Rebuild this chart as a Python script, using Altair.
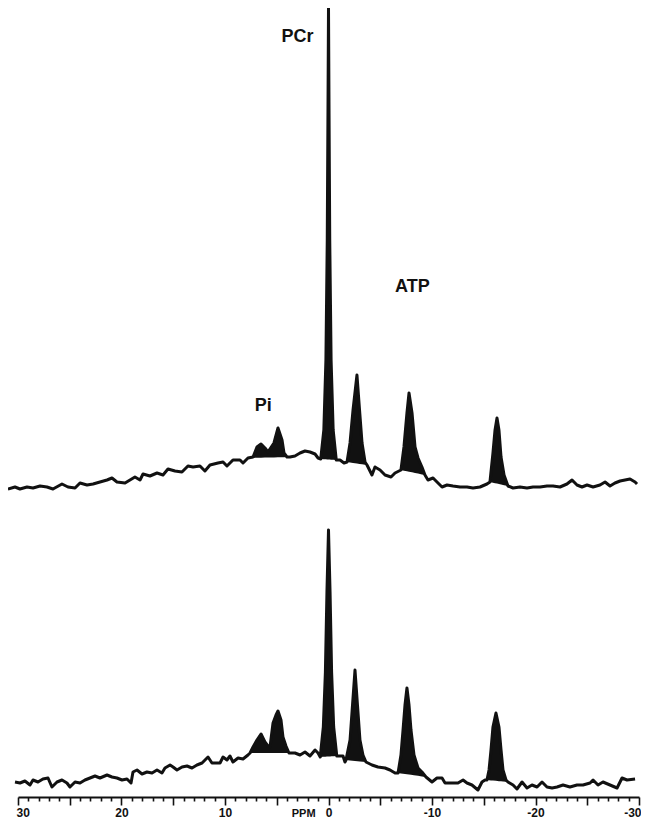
import altair as alt
import numpy as np
import pandas as pd

# ---- spectrum 1 (upper trace): chemical shift (ppm) and intensity (a.u.) ----
top_ppm = [30.97, 30.29, 29.81, 29.13, 28.55, 27.87, 27.20, 26.62, 25.75, 25.17, 24.49, 24.01,
           23.33, 22.75, 22.08, 21.40, 20.92, 20.44, 19.66, 19.18, 18.70, 18.21, 17.92, 17.25,
           16.57, 15.99, 15.51, 14.83, 14.16, 13.58, 13.09, 12.42, 11.94, 11.45, 10.68, 10.19,
           9.81, 9.23, 8.55, 8.26, 7.78, 7.29, 6.91, 6.52, 6.14, 5.85, 5.27, 4.88, 4.49, 4.30,
           4.01, 3.72, 3.24, 2.75, 2.27, 1.79, 1.30, 1.01, 0.75, 0.45, 0.25, 0.12, 0.05, 0.0,
           -0.05, -0.12, -0.25, -0.45, -0.75, -1.11, -1.50, -1.79, -2.08, -2.37, -2.75, -3.00,
           -3.24, -3.53, -3.72, -4.20, -4.49, -4.98, -5.46, -6.04, -6.43, -7.00, -7.29, -7.58,
           -7.78, -8.07, -8.36, -8.65, -9.03, -9.32, -9.61, -10.10, -10.58, -10.97, -11.45,
           -12.03, -12.71, -13.38, -13.96, -14.64, -15.31, -15.60, -15.89, -16.09, -16.28,
           -16.47, -16.67, -16.96, -17.34, -17.83, -18.50, -19.18, -19.76, -20.44, -21.11,
           -21.69, -22.37, -23.04, -23.53, -24.01, -24.49, -24.98, -25.56, -26.23, -26.72,
           -27.20, -27.68, -28.17, -28.65, -29.13, -29.62, -29.81]
top_int = [1, 3, 1, 3, 2, 4, 3, 1, 6, 3, 2, 7,
           5, 6, 8, 10, 12, 8, 7, 10, 13, 10, 16, 14,
           17, 15, 21, 19, 18, 24, 23, 24, 19, 25, 27, 28,
           24, 30, 30, 27, 32, 33, 43, 46, 42, 38, 47, 62, 50, 37,
           33, 33, 34, 37, 39, 38, 36, 32, 31, 60, 130, 250, 380, 482,
           380, 250, 130, 60, 30, 30, 27, 28, 47, 80, 115, 80,
           47, 28, 25, 15, 23, 20, 15, 13, 17, 20, 43, 77,
           97, 77, 43, 32, 23, 15, 10, 12, 7, 3, 5,
           4, 3, 3, 2, 3, 6, 8, 37, 60, 72,
           60, 33, 15, 4, 2, 3, 2, 3, 3, 4,
           4, 3, 6, 10, 5, 3, 5, 3, 5, 8,
           4, 7, 9, 10, 11, 8, 6]

# ---- spectrum 2 (lower trace) ----
bot_ppm = [30.29, 29.81, 29.33, 28.84, 28.55, 28.07, 27.59, 27.10, 26.72, 26.23, 25.75, 25.27,
           24.98, 24.49, 24.01, 23.53, 23.04, 22.56, 22.08, 21.40, 20.92, 20.44, 19.95, 19.47,
           19.08, 18.89, 18.50, 18.02, 17.54, 17.05, 16.57, 16.09, 15.80, 15.31, 15.02, 14.64,
           14.15, 13.67, 13.19, 12.71, 12.22, 11.93, 11.64, 11.26, 10.77, 10.48, 10.19, 9.81,
           9.52, 9.23, 8.74, 8.26, 7.78, 7.58, 7.29, 6.91, 6.52, 6.14, 5.85, 5.65, 5.36, 5.07,
           4.88, 4.59, 4.40, 4.11, 3.82, 3.53, 3.24, 2.75, 2.27, 1.79, 1.30, 1.01, 0.80, 0.50,
           0.30, 0.15, 0.0, -0.15, -0.30, -0.50, -0.80, -1.40, -1.59, -1.69, -2.08, -2.32,
           -2.56, -2.80, -3.04, -3.33, -3.62, -4.20, -4.78, -5.46, -5.94, -6.43, -6.72, -7.00,
           -7.20, -7.39, -7.58, -7.78, -7.97, -8.26, -8.65, -9.03, -9.42, -10.00, -10.48,
           -10.97, -11.26, -11.93, -12.51, -13.00, -13.38, -13.86, -14.44, -14.83, -15.12,
           -15.31, -15.51, -15.70, -15.89, -16.18, -16.47, -16.67, -16.86, -17.15, -17.34,
           -17.83, -18.21, -18.70, -19.18, -19.66, -20.15, -20.63, -21.11, -21.60, -22.08,
           -22.66, -23.33, -24.01, -24.59, -25.27, -25.56, -26.04, -26.52, -27.20, -27.88,
           -28.36, -28.84, -29.62]
bot_int = [0, -1, 1, -3, 2, 0, 3, 4, -5, 0, 2, -1,
           -5, 0, -1, 2, 4, 6, 4, 7, 5, 4, 2, 3,
           -1, 10, 12, 8, 10, 9, 12, 9, 14, 17, 15, 12,
           15, 16, 14, 17, 19, 22, 25, 19, 19, 19, 25, 22,
           26, 20, 24, 23, 27, 29, 35, 42, 48, 40, 36, 35, 59, 67,
           71, 62, 45, 36, 29, 29, 29, 27, 30, 26, 32, 29, 25, 55,
           110, 190, 252, 190, 110, 55, 26, 26, 20, 22, 42, 77,
           112, 77, 42, 27, 20, 17, 15, 14, 12, 9, 9, 27,
           52, 77, 94, 77, 52, 27, 14, 10, 5, 0, 4,
           4, -1, -1, -1, 2, -1, -3, -8, 0, 2,
           2, 12, 32, 55, 69, 55, 32, 12, 2, 0,
           -3, -7, 0, -6, -3, -5, 0, -5, -6, -5,
           -3, -5, -3, -3, -1, 2, -3, 0, -3, -6,
           4, 2, 3]

# filled (integrated) peak regions, ppm bounds: Pi, PCr, gamma-, alpha-, beta-ATP
top_peaks = [(7.78, 3.72), (0.75, -0.75), (-1.79, -3.72), (-7.00, -9.32), (-15.60, -17.34)]
bot_peaks = [(7.58, 3.82), (0.80, -0.80), (-1.69, -3.62), (-6.72, -9.42), (-15.31, -17.34)]

# annotations
ann_text = ["PCr", "ATP", "Pi"]
ann_ppm = [3.0, -8.1, 6.3]
ann_h = [760, 510, 391]

# vertical stacking offsets of the two traces
TOP_OFF = 307
BOT_OFF = 15

W, H = 621, 789
INK = "#111111"

line_rows = []
fill_rows = []
for name, ppm, inten, off, peaks in [("top", top_ppm, top_int, TOP_OFF, top_peaks),
                                     ("bottom", bot_ppm, bot_int, BOT_OFF, bot_peaks)]:
    p = np.array(ppm, dtype=float)
    v = np.array(inten, dtype=float) + off
    for a, b in zip(p, v):
        line_rows.append({"spectrum": name, "ppm": a, "h": b})
    for k, (hi, lo) in enumerate(peaks):
        i_hi = int(np.argmin(np.abs(p - hi)))
        i_lo = int(np.argmin(np.abs(p - lo)))
        for i in range(i_hi, i_lo + 1):
            base = np.interp(p[i], [p[i_lo], p[i_hi]], [v[i_lo], v[i_hi]])
            fill_rows.append({"peak": f"{name}{k}", "ppm": p[i], "h": v[i], "base": base})

lines = pd.DataFrame(line_rows)
fills = pd.DataFrame(fill_rows)
ann = pd.DataFrame({"label": ann_text, "ppm": ann_ppm, "h": ann_h})

xscale = alt.Scale(domain=[30, -30], nice=False, zero=False)
yscale = alt.Scale(domain=[0, H], nice=False, zero=False)

xaxis = alt.Axis(
    values=list(range(-30, 31)),
    title=None,
    grid=False,
    labelExpr="datum.value % 10 === 0 ? '' + datum.value : ''",
    labelOverlap=False,
    labelFlush=True,
    labelFlushOffset=2,
    labelFont="Liberation Sans",
    labelFontWeight="bold",
    labelFontSize=12,
    labelColor=INK,
    labelPadding=2,
    domainColor=INK,
    domainWidth=2,
    tickColor=INK,
    tickWidth=1.6,
    tickSize={"condition": {"test": "datum.value % 5 === 0", "value": 8}, "value": 4},
)

X = alt.X("ppm:Q", scale=xscale, axis=xaxis)
Y = alt.Y("h:Q", scale=yscale, axis=None)

area = alt.Chart(fills).mark_area(color=INK, clip=False).encode(
    x=X, y=Y, y2="base:Q", detail="peak:N",
)

line = alt.Chart(lines).mark_line(color=INK, strokeWidth=3, strokeJoin="round",
                                  clip=False).encode(
    x=X, y=Y, detail="spectrum:N",
)

labels = alt.Chart(ann).mark_text(font="Liberation Sans", fontWeight="bold", fontSize=18,
                                  color=INK).encode(
    x=X, y=Y, text="label:N",
)

ppm_label = alt.Chart(pd.DataFrame({"ppm": [2.4], "t": ["PPM"]})).mark_text(
    font="Liberation Sans", fontWeight="bold", fontSize=11, color=INK, baseline="middle"
).encode(
    x=X, y=alt.value(H + 17), text="t:N",
)

chart = alt.layer(area, line, labels, ppm_label).properties(
    width=W,
    height=H,
    autosize=alt.AutoSizeParams(type="none"),
    padding={"left": 10, "top": 0, "right": 2, "bottom": 32},
    background="white",
).configure_view(strokeWidth=0, stroke="transparent")

chart.save("out.html", embed_options={"renderer": "svg", "actions": False})
